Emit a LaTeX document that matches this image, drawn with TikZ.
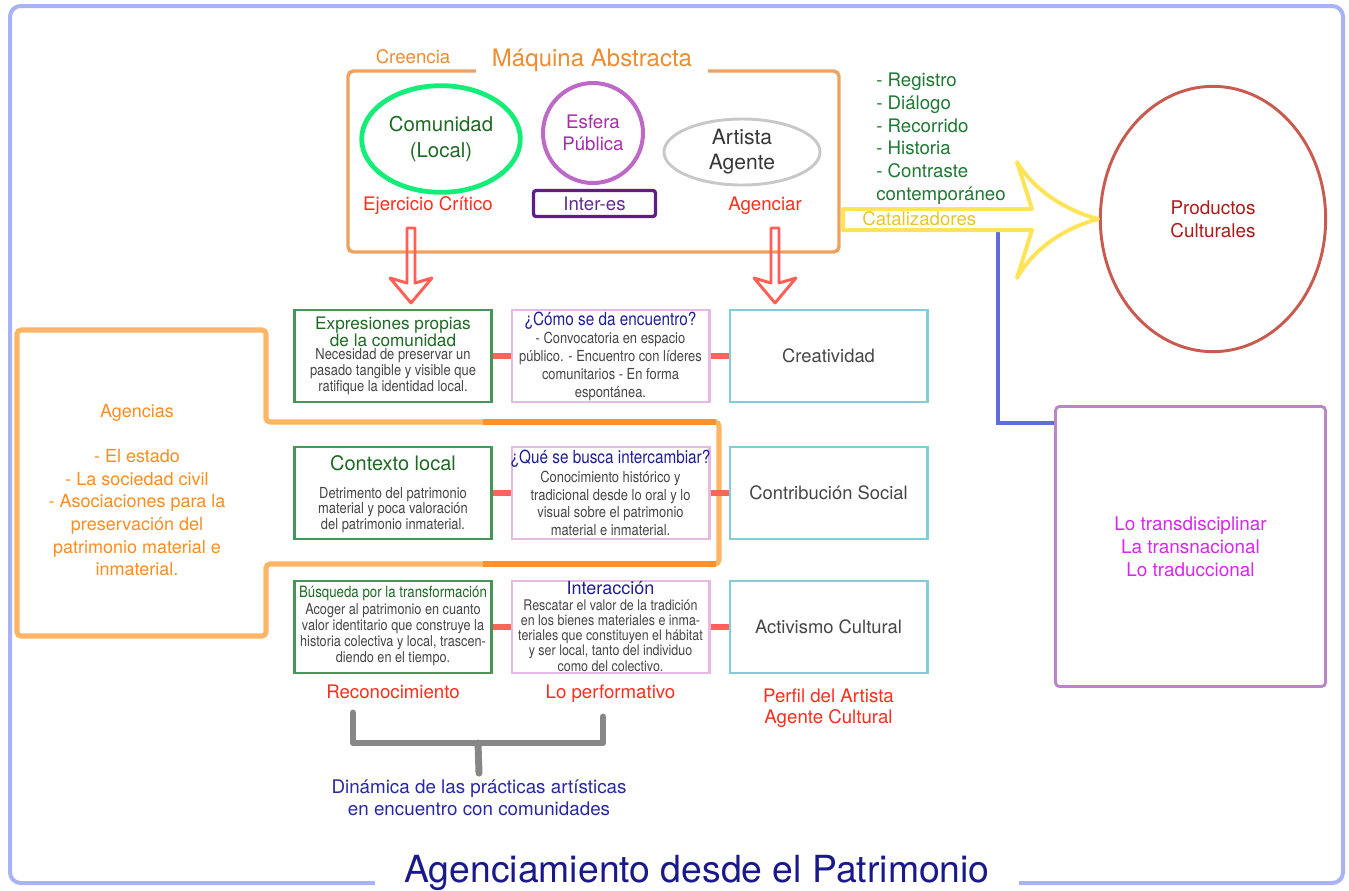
\documentclass[tikz,border=0pt]{standalone}
\usepackage{fontspec}
\setmainfont{TeX Gyre Heros}
\newfontfamily\narrowfont[FakeStretch=0.85]{TeX Gyre Heros}
\usetikzlibrary{positioning,shapes.geometric}
\definecolor{frameblue}{RGB}{168,178,246}
\definecolor{titlenavy}{RGB}{25,25,140}
\definecolor{machline}{RGB}{236,162,96}
\definecolor{machtext}{RGB}{238,140,50}
\definecolor{comgreen}{RGB}{20,238,120}
\definecolor{darkgreen}{RGB}{30,105,35}
\definecolor{esfline}{RGB}{190,105,200}
\definecolor{esftext}{RGB}{165,45,170}
\definecolor{interline}{RGB}{95,30,135}
\definecolor{intertext}{RGB}{95,45,140}
\definecolor{artline}{RGB}{200,200,200}
\definecolor{artext}{RGB}{55,55,55}
\definecolor{critred}{RGB}{255,45,30}
\definecolor{arrowred}{RGB}{255,95,85}
\definecolor{catyellow}{RGB}{255,228,90}
\definecolor{cattext}{RGB}{232,198,35}
\definecolor{listgreen}{RGB}{30,120,50}
\definecolor{prodline}{RGB}{200,90,80}
\definecolor{prodtext}{RGB}{175,25,25}
\definecolor{tieblue}{RGB}{95,110,215}
\definecolor{transline}{RGB}{185,135,200}
\definecolor{transtext}{RGB}{215,40,235}
\definecolor{aglight}{RGB}{255,182,100}
\definecolor{agdark}{RGB}{255,145,40}
\definecolor{agtext}{RGB}{255,140,30}
\definecolor{cellgreen}{RGB}{70,150,90}
\definecolor{cellpink}{RGB}{228,185,228}
\definecolor{cellcyan}{RGB}{130,205,215}
\definecolor{qnavy}{RGB}{30,30,150}
\definecolor{bodygrey}{RGB}{70,70,70}
\definecolor{linkred}{RGB}{255,100,90}
\definecolor{bracegrey}{RGB}{135,135,135}
\definecolor{dynnavy}{RGB}{40,40,165}
\tikzset{
  lbl/.style={inner sep=0pt, align=center, font=\fontsize{14}{17}\selectfont},
  frame/.style={draw=frameblue, line width=3pt, rounded corners=8pt},
  maintitle/.style={fill=white, inner xsep=22pt, inner ysep=3pt, text=titlenavy, font=\fontsize{28}{30}\selectfont},
  machine/.style={draw=machline, line width=2.6pt, rounded corners=4pt},
  machinehead/.style={fill=white, inner xsep=12pt, inner ysep=4pt, text=machtext, font=\fontsize{18}{20}\selectfont},
  oval/.style={lbl, ellipse, line width=2.2pt},
  hollow/.style={draw=arrowred, line width=2.2pt, line join=round},
  catarrow/.style={draw=catyellow, line width=3pt, line join=round},
  tie/.style={draw=tieblue, line width=3pt},
  agency/.style={draw=aglight, line width=3.8pt, rounded corners=3pt},
  cell/.style={draw, line width=2.2pt, minimum width=147.8pt, minimum height=69pt, inner sep=0pt, fill=white},
  gcell/.style={cell, draw=cellgreen},
  pcell/.style={cell, draw=cellpink},
  ccell/.style={cell, draw=cellcyan, text=bodygrey, font=\fontsize{13.8}{16}\selectfont},
  gtitle/.style={lbl, text=darkgreen},
  qtitle/.style={lbl, text=qnavy},
  body/.style={lbl, text=bodygrey, font=\narrowfont\fontsize{11.4}{#1}\selectfont},
  body/.default=12,
  link/.style={draw=linkred, line width=3.8pt},
  redlbl/.style={lbl, text=critred},
  brace/.style={draw=bracegrey, line width=5.2pt, line cap=round, line join=round},
}

\begin{document}
\begin{tikzpicture}[x=0.75pt, y=-0.75pt]
  \useasboundingbox (0,0) rectangle (1349,890);
  % frame
  \draw[frame] (10,6) rectangle (1343,883);
  \node[maintitle, anchor=base] (title) at (697,882) {Agenciamiento desde el Patrimonio};

  % abstract machine
  \draw[machine] (348,71) rectangle (839,252);
  \node[machinehead, anchor=base] (maq) at (592,66) {Máquina Abstracta};
  \node[lbl, text=machtext] (cre) at (413,57) {Creencia};
  \node[oval, draw=comgreen, line width=3.6pt, minimum width=119pt, minimum height=80pt, text=darkgreen, font=\fontsize{15.3}{19.5}\selectfont] (com) at (441,139) {Comunidad\\(Local)};
  \node[lbl, circle, draw=esfline, line width=3pt, minimum size=75pt, text=esftext, font=\fontsize{14}{16.5}\selectfont] (esf) at (593,133) {Esfera\\Pública};
  \node[lbl, draw=interline, line width=2.5pt, rounded corners=2pt, minimum width=91.5pt, minimum height=19.5pt, text=intertext] (inter) at (594.5,203.5) {Inter-es};
  \node[oval, draw=artline, minimum width=117pt, minimum height=49.5pt, text=artext, font=\fontsize{15.8}{18.75}\selectfont] (art) at (742,152) {Artista\\Agente};
  \node[redlbl] (ejer) at (428,206) {Ejercicio Crítico};
  \node[redlbl] (agc) at (765,206) {Agenciar};
  \foreach \x in {411,775}
    \draw[hollow] ({\x-4},228) -- ++(0,55) -- ++(-17,-5) -- ++(21,25) -- ++(21,-25) -- ++(-17,5) -- ++(0,-55) -- cycle;

  % catalysts
  \node[lbl, align=left, anchor=north west, text=listgreen] (tools) at (876,73) {- Registro\\- Diálogo\\- Recorrido\\- Historia\\- Contraste\\contemporáneo};
  \node[oval, draw=prodline, minimum width=169pt, minimum height=199pt, text=prodtext, font=\fontsize{14.2}{17.25}\selectfont] (prod) at (1213,219) {Productos\\Culturales};
  \node[lbl, draw=transline, line width=2.2pt, rounded corners=3pt, minimum width=202.5pt, minimum height=210pt, text=transtext, font=\fontsize{14.2}{17.25}\selectfont] (trans) at (1190.5,546.5) {Lo transdisciplinar\\La transnacional\\Lo traduccional};
  \coordinate (catal) at (998,230);
  \draw[tie] (catal) |- ([yshift=-13.5pt]trans.north west);
  \draw[catarrow] (843,209) -- (1032,209) -- (1017,162) .. controls (1035,192) and (1068,211) .. (1098,219)
    .. controls (1068,227) and (1035,246) .. (1017,278) -- (1032,230) -- (843,230) -- cycle;
  \node[lbl, anchor=west, text=cattext] (cat) at (862,219) {Catalizadores};

  % agencies
  \draw[agency] (17,330) -- (266,330) -- (266,422) -- (719,422) -- (719,564) -- (266,564) -- (266,636) -- (17,636) -- cycle;
  \draw[agency, draw=agdark, rounded corners=0pt] (483,422) -- (716,422) (483,564) -- (716,564);
  \node[lbl, text=agtext, font=\fontsize{13.5}{17}\selectfont] (agen) at (137,490) {Agencias\\[17pt]- El estado\\- La sociedad civil\\- Asociaciones para la\\preservación del\\patrimonio material e\\inmaterial.};

  % grid of cells
  \foreach \r/\y in {1/356,2/493,3/627} {
    \node[gcell] (g\r) at (393,\y) {};
    \node[pcell] (p\r) at (610.5,\y) {};
  }
  \node[ccell] (c1) at (828.5,356) {Creatividad};
  \node[ccell] (c2) at (828.5,493) {Contribución Social};
  \node[ccell] (c3) at (828.5,627) {Activismo Cultural};
  \foreach \r in {1,2,3} {
    \draw[link] (g\r) -- (p\r);
    \draw[link] (p\r) -- (c\r);
  }
  \node[gtitle, font=\fontsize{12.9}{12.75}\selectfont] (expT) at (393,331.5) {Expresiones propias\\de la comunidad};
  \node[body=11.8] (expB) at (393,371.5) {Necesidad de preservar un\\pasado tangible y visible que\\ratifique la identidad local.};
  \node[qtitle, font=\narrowfont\fontsize{13.5}{15}\selectfont] (comoT) at (610.5,321) {¿Cómo se da encuentro?};
  \node[body=13.7] (comoB) at (610.5,366.5) {- Convocatoria en espacio\\público. - Encuentro con líderes\\comunitarios - En forma\\espontánea.};
  \node[gtitle, font=\fontsize{15}{17}\selectfont] (ctxT) at (393,463) {Contexto local};
  \node[body=11.6] (ctxB) at (393,510) {Detrimento del patrimonio\\material y poca valoración\\del patrimonio inmaterial.};
  \node[qtitle, font=\narrowfont\fontsize{13.5}{15}\selectfont] (queT) at (610.5,459) {¿Qué se busca intercambiar?};
  \node[body=13.3] (queB) at (610.5,503.5) {Conocimiento histórico y\\tradicional desde lo oral y lo\\visual sobre el patrimonio\\material e inmaterial.};
  \node[gtitle, font=\narrowfont\fontsize{11.7}{13}\selectfont] (busT) at (393,593) {Búsqueda por la transformación};
  \node[body, font=\narrowfont\fontsize{11.2}{12}\selectfont] (busB) at (393,635) {Acoger al patrimonio en cuanto\\valor identitario que construye la\\historia colectiva y local, trascen-\\diendo en el tiempo.};
  \node[qtitle, font=\fontsize{13.5}{15}\selectfont] (intT) at (610.5,588) {Interacción};
  \node[body, font=\narrowfont\fontsize{11}{11.4}\selectfont] (intB) at (610.5,635.5) {Rescatar el valor de la tradición\\en los bienes materiales e inma-\\teriales que constituyen el hábitat\\y ser local, tanto del individuo\\como del colectivo.};

  % labels below
  \node[redlbl, below=7.5pt of g3] (rec) {Reconocimiento};
  \node[redlbl, below=7.5pt of p3] (perf) {Lo performativo};
  \node[redlbl, below=10.5pt of c3, font=\fontsize{14}{15.75}\selectfont] (perfil) {Perfil del Artista\\Agente Cultural};
  \node[lbl, text=dynnavy, font=\fontsize{14.1}{16.5}\selectfont] (dyn) at (479,798) {Dinámica de las prácticas artísticas\\en encuentro con comunidades};
  \draw[brace] (353,713) |- (603,743) -- (603,717);
  \draw[brace] (478,743) -- ([yshift=5pt]dyn.north);
\end{tikzpicture}
\end{document}
